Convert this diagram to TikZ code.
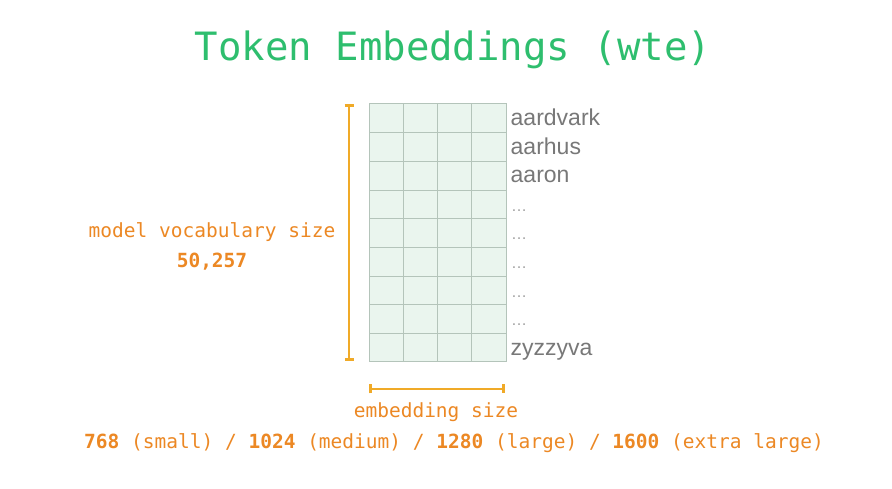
\documentclass[tikz,border=0pt]{standalone}
\usepackage{fontspec}
\setmainfont{Liberation Sans}
\newfontfamily\monofont{DejaVu Sans Mono}
\usetikzlibrary{arrows.meta,calc}
\definecolor{titlegreen}{RGB}{46,190,110}
\definecolor{txtorange}{RGB}{236,136,36}
\definecolor{barorange}{RGB}{240,170,40}
\definecolor{cellfill}{RGB}{234,245,238}
\definecolor{cellline}{RGB}{180,196,186}
\definecolor{wordgray}{RGB}{120,120,120}
\tikzset{
  wordlbl/.style={anchor=base west, inner sep=0pt, text=wordgray, font=\fontsize{23}{25}\selectfont},
  dotlbl/.style={anchor=base west, inner sep=0pt, text=wordgray!70, font=\fontsize{16}{18}\selectfont},
  orangetxt/.style={inner sep=0pt, text=txtorange, font=\monofont\fontsize{19.5}{22}\selectfont},
  sizebar/.style={draw=barorange, line width=2.6pt, {Bar[width=9pt,line width=2.6pt]}-{Bar[width=9pt,line width=2.6pt]}}
}
\begin{document}
\begin{tikzpicture}[x=1pt,y=1pt]
\useasboundingbox[fill=white] (0,0) rectangle (892,489);
% title
\node[inner sep=0pt, text=titlegreen, font=\monofont\fontsize{39}{44}\selectfont] (title) at (453,439) {Token Embeddings (wte)};
% grid
\node[draw=cellline, fill=cellfill, line width=0.8pt, minimum width=137pt, minimum height=258pt, inner sep=0pt, anchor=south west] (grid) at (369,127) {};
\foreach \i in {1,2,3} {
  \draw[cellline, line width=0.8pt] ($(grid.south west)+(\i*34.25,0)$) -- ($(grid.north west)+(\i*34.25,0)$);
}
\foreach \j in {1,...,8} {
  \draw[cellline, line width=0.8pt] ($(grid.south west)+(0,\j*28.667)$) -- ($(grid.south east)+(0,\j*28.667)$);
}
% word labels (baseline ~7pt above the bottom of each row)
\node[wordlbl] (w1) at (510.5,127+8*28.667+7) {aardvark};
\node[wordlbl] (w2) at (510.5,127+7*28.667+7) {aarhus};
\node[wordlbl] (w3) at (510.5,127+6*28.667+7) {aaron};
\node[dotlbl] (w4) at (511,127+5*28.667+7.5) {\ldots};
\node[dotlbl] (w5) at (511,127+4*28.667+7.5) {\ldots};
\node[dotlbl] (w6) at (511,127+3*28.667+7.5) {\ldots};
\node[dotlbl] (w7) at (511,127+2*28.667+7.5) {\ldots};
\node[dotlbl] (w8) at (511,127+1*28.667+7.5) {\ldots};
\node[wordlbl] (w9) at (510.5,127+6.5) {zyzzyva};
% vertical size bar
\coordinate (vtop) at (349,385);
\coordinate (vbot) at (349,128);
\draw[sizebar] (vtop) -- (vbot);
\node[orangetxt] (vocab) at (212,257) {model vocabulary size};
\node[orangetxt, font=\monofont\bfseries\fontsize{19.5}{22}\selectfont] (vocabn) at (212,227) {50,257};
% horizontal size bar
\coordinate (hl) at (369,100);
\coordinate (hr) at (505,100);
\draw[sizebar] (hl) -- (hr);
\node[orangetxt] (emb) at (436,77) {embedding size};
\node[orangetxt] (sizes) at (454,46) {\textbf{768} (small) / \textbf{1024} (medium) / \textbf{1280} (large) / \textbf{1600} (extra large)};
\end{tikzpicture}
\end{document}
